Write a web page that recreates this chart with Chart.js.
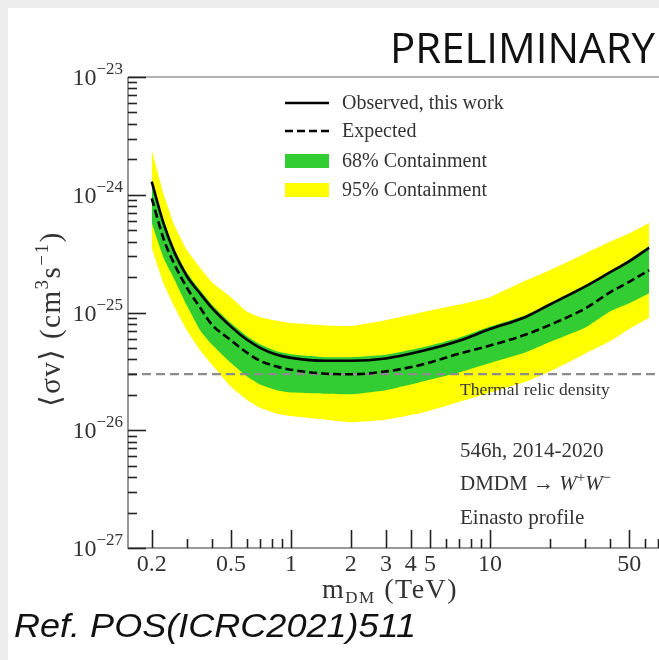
<!DOCTYPE html>
<html>
<head>
<meta charset="utf-8">
<script src="https://cdn.jsdelivr.net/npm/chart.js@4.4.1/dist/chart.umd.min.js"></script>
<style>
  html, body { margin: 0; padding: 0; background: #fff; }
  canvas { display: block; }
</style>
</head>
<body>
<canvas id="chart-limits" width="659" height="660"></canvas>
<script>
// DM mass grid (TeV)
const massTeV = [0.2, 0.23, 0.26, 0.3, 0.35, 0.4, 0.5, 0.6, 0.7, 0.85, 1, 1.5, 2, 3, 4.5, 7, 10, 15, 20, 30, 40, 50, 63];

// <sigma v> limits (cm^3 s^-1)
const observed = [1.29e-24, 5.62e-25, 3.24e-25, 2.04e-25, 1.45e-25, 1.10e-25, 7.59e-26, 5.89e-26, 5.01e-26, 4.37e-26, 4.12e-26, 3.89e-26, 3.89e-26, 4.07e-26, 4.68e-26, 5.75e-26, 7.24e-26, 9.12e-26, 1.17e-25, 1.66e-25, 2.19e-25, 2.72e-25, 3.55e-25];
const expected = [9.33e-25, 4.17e-25, 2.57e-25, 1.63e-25, 1.10e-25, 7.94e-26, 5.82e-26, 4.57e-26, 3.89e-26, 3.47e-26, 3.27e-26, 3.02e-26, 2.99e-26, 3.16e-26, 3.59e-26, 4.47e-26, 5.25e-26, 6.46e-26, 7.85e-26, 1.08e-25, 1.48e-25, 1.82e-25, 2.29e-25];
const band68Upper = [1.35e-24, 6.03e-25, 3.47e-25, 2.19e-25, 1.55e-25, 1.17e-25, 8.13e-26, 6.31e-26, 5.37e-26, 4.68e-26, 4.42e-26, 4.17e-26, 4.17e-26, 4.37e-26, 5.01e-26, 6.10e-26, 7.59e-26, 9.44e-26, 1.20e-25, 1.70e-25, 2.24e-25, 2.82e-25, 3.67e-25];
const band68Lower = [5.75e-25, 2.88e-25, 1.91e-25, 1.15e-25, 7.08e-26, 5.37e-26, 3.72e-26, 2.88e-26, 2.45e-26, 2.19e-26, 2.09e-26, 2.04e-26, 2.02e-26, 2.19e-26, 2.57e-26, 3.09e-26, 3.72e-26, 4.57e-26, 5.62e-26, 7.41e-26, 1.02e-25, 1.20e-25, 1.46e-25];
const band95Upper = [2.40e-24, 1.00e-24, 5.50e-25, 3.39e-25, 2.40e-25, 1.82e-25, 1.35e-25, 1.02e-25, 9.12e-26, 8.51e-26, 8.13e-26, 7.76e-26, 7.67e-26, 8.61e-26, 1.00e-25, 1.17e-25, 1.35e-25, 1.86e-25, 2.29e-25, 3.16e-25, 3.98e-25, 4.68e-25, 5.75e-25];
const band95Lower = [3.55e-25, 1.74e-25, 1.12e-25, 7.08e-26, 4.79e-26, 3.63e-26, 2.34e-26, 1.82e-26, 1.55e-26, 1.38e-26, 1.32e-26, 1.23e-26, 1.17e-26, 1.23e-26, 1.40e-26, 1.74e-26, 2.09e-26, 2.57e-26, 3.16e-26, 4.47e-26, 5.69e-26, 7.24e-26, 9.02e-26];
const thermalRelic = 3e-26;

// Axis ranges and ticks
const xRange = [0.152, 70.6];
const yRange = [1e-27, 1e-23];
const xMajorTicks = [0.2, 0.5, 1, 2, 3, 4, 5, 10, 50];
const xMinorTicks = [0.3, 0.4, 0.6, 0.7, 0.8, 0.9, 6, 7, 8, 9, 20, 30, 40, 60, 70];
const yDecades = [-27, -26, -25, -24, -23];

const legendLabels = ['Observed, this work', 'Expected', '68% Containment', '95% Containment'];

const SERIF = '"Liberation Serif", "DejaVu Serif", serif';
const colors = {
    green: '#32cd32',
    yellow: '#ffff00',
    relic: '#8c8c8c',
    text: '#333'
};

function toPoints(ys) {
    return massTeV.map((m, i) => ({ x: m, y: ys[i] }));
}

// Draw a run of text pieces (for super/subscripts), returns end x
function drawRuns(ctx, runs, x, y) {
    runs.forEach(r => {
        ctx.font = r.font;
        ctx.fillText(r.text, x, y + (r.dy || 0));
        x += ctx.measureText(r.text).width;
    });
    return x;
}

function measureRuns(ctx, runs) {
    let w = 0;
    runs.forEach(r => {
        ctx.font = r.font;
        w += ctx.measureText(r.text).width;
    });
    return w;
}

// Slide background: light grey frame on top and left
const paperPlugin = {
    id: 'paper',
    beforeDraw(chart) {
        const ctx = chart.ctx;
        ctx.save();
        ctx.fillStyle = '#fff';
        ctx.fillRect(0, 0, chart.width, chart.height);
        ctx.fillStyle = '#ededed';
        ctx.fillRect(0, 0, chart.width, 8);
        ctx.fillRect(0, 0, 8, chart.height);
        ctx.restore();
    }
};

// Axes with inward ticks, drawn from the chart's scales
const axesPlugin = {
    id: 'axesDecor',
    afterDatasetsDraw(chart) {
        const { ctx, chartArea: area, scales: { x, y } } = chart;
        ctx.save();

        // Frame lines
        ctx.lineWidth = 1.5;
        ctx.strokeStyle = '#9a9a9a';
        ctx.beginPath();
        ctx.moveTo(area.left, area.top);
        ctx.lineTo(area.right, area.top);
        ctx.stroke();
        ctx.strokeStyle = '#777';
        ctx.beginPath();
        ctx.moveTo(area.left, area.top);
        ctx.lineTo(area.left, area.bottom);
        ctx.lineTo(area.right, area.bottom);
        ctx.stroke();

        // Y ticks (major + minor)
        ctx.strokeStyle = '#222';
        ctx.lineWidth = 1.6;
        yDecades.forEach(d => {
            for (let k = 1; k <= 9; k++) {
                const v = k * Math.pow(10, d);
                if (v > yRange[1] * 1.0001) break;
                const py = Math.round(y.getPixelForValue(v)) + 0.5;
                const len = k === 1 ? 18 : 9;
                ctx.beginPath();
                ctx.moveTo(area.left, py);
                ctx.lineTo(area.left + len, py);
                ctx.stroke();
            }
        });

        // X ticks
        const xTick = (v, len) => {
            const px = Math.round(x.getPixelForValue(v)) + 0.5;
            ctx.beginPath();
            ctx.moveTo(px, area.bottom);
            ctx.lineTo(px, area.bottom - len);
            ctx.stroke();
        };
        xMajorTicks.forEach(v => xTick(v, 18));
        xMinorTicks.forEach(v => xTick(v, 9));

        // Y tick labels: 10^d
        ctx.fillStyle = colors.text;
        ctx.textAlign = 'left';
        ctx.textBaseline = 'alphabetic';
        yDecades.forEach(d => {
            const py = y.getPixelForValue(Math.pow(10, d));
            const runs = [
                { text: '10', font: `24px ${SERIF}` },
                { text: '\u2212' + Math.abs(d), font: `17px ${SERIF}`, dy: -11 }
            ];
            const w = measureRuns(ctx, runs);
            drawRuns(ctx, runs, 123 - w, py + 8);
        });

        // X tick labels
        ctx.textAlign = 'center';
        ctx.font = `24px ${SERIF}`;
        xMajorTicks.forEach(v => {
            ctx.fillText(String(v), x.getPixelForValue(v), area.bottom + 23);
        });

        ctx.restore();
    }
};

// Titles, legend and notes
const textPlugin = {
    id: 'textDecor',
    afterDraw(chart) {
        const ctx = chart.ctx;
        const ds = chart.data.datasets;
        ctx.save();
        ctx.fillStyle = colors.text;
        ctx.textAlign = 'left';
        ctx.textBaseline = 'alphabetic';

        // X axis title
        ctx.letterSpacing = '1.5px';
        drawRuns(ctx, [
            { text: 'm', font: `28px ${SERIF}` },
            { text: 'DM', font: `17px ${SERIF}`, dy: 5 },
            { text: ' (TeV)', font: `28px ${SERIF}` }
        ], 322, 598);

        // Y axis title (rotated)
        const yRuns = [
            { text: '\u27E8\u03C3v\u27E9 (cm', font: `29px ${SERIF}` },
            { text: '3', font: `19px ${SERIF}`, dy: -12 },
            { text: 's', font: `29px ${SERIF}` },
            { text: '\u22121', font: `19px ${SERIF}`, dy: -12 },
            { text: ')', font: `29px ${SERIF}` }
        ];
        ctx.save();
        ctx.translate(60, 319);
        ctx.rotate(-Math.PI / 2);
        drawRuns(ctx, yRuns, -measureRuns(ctx, yRuns) / 2, 0);
        ctx.restore();
        ctx.letterSpacing = '0px';

        // Legend
        const rows = [
            { ds: ds[0], y: 103, kind: 'line' },
            { ds: ds[1], y: 131, kind: 'line' },
            { ds: ds[3], y: 161, kind: 'box' },
            { ds: ds[5], y: 190, kind: 'box' }
        ];
        rows.forEach((row, i) => {
            if (row.kind === 'line') {
                ctx.strokeStyle = row.ds.borderColor;
                ctx.lineWidth = row.ds.borderWidth;
                ctx.setLineDash(row.ds.borderDash || []);
                ctx.beginPath();
                ctx.moveTo(285, row.y);
                ctx.lineTo(329, row.y);
                ctx.stroke();
                ctx.setLineDash([]);
            } else {
                ctx.fillStyle = row.ds.backgroundColor;
                ctx.fillRect(285, row.y - 7, 44, 14);
            }
            ctx.fillStyle = colors.text;
            ctx.font = `20px ${SERIF}`;
            ctx.fillText(legendLabels[i], 342, row.y + 6);
        });

        // Notes
        ctx.font = `17.5px ${SERIF}`;
        ctx.fillText('Thermal relic density', 460, 395);
        ctx.font = `21px ${SERIF}`;
        ctx.fillText('546h, 2014-2020', 460, 457);
        drawRuns(ctx, [
            { text: 'DMDM \u2192 ', font: `21px ${SERIF}` },
            { text: 'W', font: `italic 21px ${SERIF}` },
            { text: '+', font: `15px ${SERIF}`, dy: -8 },
            { text: 'W', font: `italic 21px ${SERIF}` },
            { text: '\u2212', font: `15px ${SERIF}`, dy: -8 }
        ], 460, 490);
        ctx.font = `21px ${SERIF}`;
        ctx.fillText('Einasto profile', 460, 524);

        // Slide labels
        ctx.fillStyle = '#111';
        ctx.font = '42px "Open Sans", "Liberation Sans", sans-serif';
        let w = ctx.measureText('PRELIMINARY').width;
        ctx.save();
        ctx.translate(390, 63);
        ctx.scale(265 / w, 1);
        ctx.fillText('PRELIMINARY', 0, 0);
        ctx.restore();

        ctx.font = 'italic 34px "Liberation Sans", Arial, sans-serif';
        w = ctx.measureText('Ref. POS(ICRC2021)511').width;
        ctx.save();
        ctx.translate(14, 637);
        ctx.scale(402 / w, 1);
        ctx.fillText('Ref. POS(ICRC2021)511', 0, 0);
        ctx.restore();

        ctx.restore();
    }
};

const ctx = document.getElementById('chart-limits').getContext('2d');

new Chart(ctx, {
    type: 'line',
    data: {
        datasets: [
            {
                label: legendLabels[0],
                data: toPoints(observed),
                borderColor: '#000',
                borderWidth: 2.6,
                cubicInterpolationMode: 'monotone',
                fill: false
            },
            {
                label: legendLabels[1],
                data: toPoints(expected),
                borderColor: '#000',
                borderWidth: 2.6,
                borderDash: [8, 4],
                cubicInterpolationMode: 'monotone',
                fill: false
            },
            {
                label: 'Thermal relic density',
                data: [{ x: xRange[0], y: thermalRelic }, { x: xRange[1], y: thermalRelic }],
                borderColor: colors.relic,
                borderWidth: 2.2,
                borderDash: [9, 5],
                fill: false
            },
            {
                label: legendLabels[2],
                data: toPoints(band68Upper),
                borderWidth: 0,
                borderColor: colors.green,
                backgroundColor: colors.green,
                tension: 0.15,
                fill: '+1'
            },
            {
                label: '68% lower',
                data: toPoints(band68Lower),
                borderWidth: 0,
                borderColor: colors.green,
                tension: 0.15,
                fill: false
            },
            {
                label: legendLabels[3],
                data: toPoints(band95Upper),
                borderWidth: 0,
                borderColor: colors.yellow,
                backgroundColor: colors.yellow,
                tension: 0.1,
                fill: '+1'
            },
            {
                label: '95% lower',
                data: toPoints(band95Lower),
                borderWidth: 0,
                borderColor: colors.yellow,
                tension: 0.1,
                fill: false
            }
        ]
    },
    options: {
        responsive: false,
        animation: false,
        devicePixelRatio: 1,
        layout: { padding: { left: 128, top: 77, right: 0, bottom: 112 } },
        elements: { point: { radius: 0 } },
        plugins: {
            legend: { display: false },
            tooltip: { enabled: false }
        },
        scales: {
            x: { type: 'logarithmic', min: xRange[0], max: xRange[1], bounds: 'data', display: false },
            y: { type: 'logarithmic', min: yRange[0], max: yRange[1], display: false }
        }
    },
    plugins: [paperPlugin, axesPlugin, textPlugin]
});
</script>
</body>
</html>
